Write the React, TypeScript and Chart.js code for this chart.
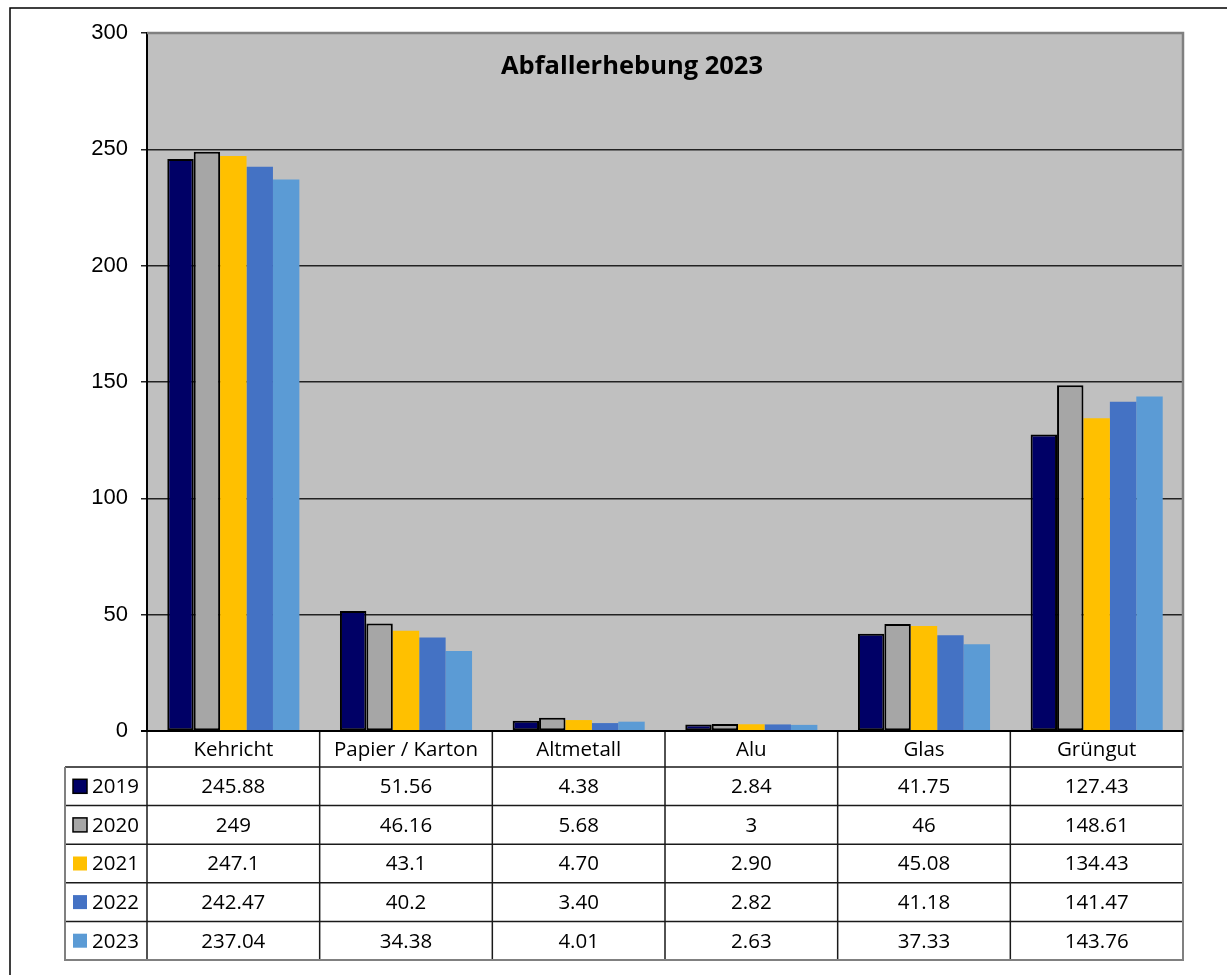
import { useEffect, useRef } from "react";
import { Chart, registerables } from "chart.js";

Chart.register(...registerables);

const categories = ["Kehricht", "Papier / Karton", "Altmetall", "Alu", "Glas", "Grüngut"];
const years = ["2019", "2020", "2021", "2022", "2023"];
const values2019 = ["245.88", "51.56", "4.38", "2.84", "41.75", "127.43"];
const values2020 = ["249", "46.16", "5.68", "3", "46", "148.61"];
const values2021 = ["247.1", "43.1", "4.70", "2.90", "45.08", "134.43"];
const values2022 = ["242.47", "40.2", "3.40", "2.82", "41.18", "141.47"];
const values2023 = ["237.04", "34.38", "4.01", "2.63", "37.33", "143.76"];
const seriesValues = [values2019, values2020, values2021, values2022, values2023];
const seriesColors = ["#000066", "#A6A6A6", "#FFC000", "#4472C4", "#5B9BD5"];
const seriesBorders = [2, 2, 0, 0, 0];
const yTicks = [0, 50, 100, 150, 200, 250, 300];
const titleText = "Abfallerhebung 2023";

const TABLE_FONT = '20.5px "Open Sans", "Noto Sans", sans-serif';

const decorPlugin = {
  id: "decor",
  beforeDraw(chart: any) {
    const { ctx, chartArea: a } = chart;
    ctx.save();
    ctx.fillStyle = "#FFFFFF";
    ctx.fillRect(0, 0, chart.width, chart.height);
    ctx.fillStyle = "#C0C0C0";
    ctx.fillRect(a.left, a.top, a.right - a.left, a.bottom - a.top);
    ctx.restore();
  },
  afterDatasetsDraw(chart: any) {
    const { ctx, chartArea: a } = chart;
    ctx.save();
    ctx.strokeStyle = "#808080";
    ctx.lineWidth = 2.5;
    ctx.beginPath();
    ctx.moveTo(a.left, a.top);
    ctx.lineTo(a.right, a.top);
    ctx.lineTo(a.right, a.bottom);
    ctx.stroke();
    ctx.fillStyle = "#000";
    ctx.font = 'bold 25.5px "Open Sans", "Noto Sans", sans-serif';
    ctx.textAlign = "center";
    ctx.textBaseline = "alphabetic";
    ctx.fillText(titleText, 632, 74);
    ctx.restore();
  },
  afterDraw(chart: any) {
    const { ctx, chartArea: a } = chart;
    const colW = (a.right - a.left) / categories.length;
    const headTop = a.bottom;
    const headH = 36;
    const rowH = 38.6;
    const legendLeft = 65;
    const rowsTop = headTop + headH;
    const tableBottom = rowsTop + rowH * years.length;
    ctx.save();
    ctx.strokeStyle = "#000";
    ctx.lineWidth = 1.5;
    ctx.beginPath();
    ctx.moveTo(10, chart.height + 2);
    ctx.lineTo(10, 8);
    ctx.lineTo(chart.width + 2, 8);
    ctx.stroke();

    ctx.fillStyle = "#FFFFFF";
    ctx.fillRect(a.left, headTop + 1, a.right - a.left, headH);
    ctx.fillRect(legendLeft, rowsTop, a.right - legendLeft, rowH * years.length);

    ctx.strokeStyle = "#1a1a1a";
    ctx.lineWidth = 1.5;
    ctx.beginPath();
    for (let i = 0; i < years.length; i++) {
      const y = rowsTop + i * rowH;
      ctx.moveTo(legendLeft, y);
      ctx.lineTo(a.right, y);
    }
    for (let c = 0; c < categories.length; c++) {
      const x = a.left + c * colW;
      ctx.moveTo(x, headTop);
      ctx.lineTo(x, tableBottom);
    }
    ctx.stroke();

    ctx.strokeStyle = "#808080";
    ctx.lineWidth = 2;
    ctx.beginPath();
    ctx.moveTo(legendLeft, rowsTop);
    ctx.lineTo(legendLeft, tableBottom);
    ctx.lineTo(a.right, tableBottom);
    ctx.lineTo(a.right, headTop);
    ctx.stroke();

    ctx.strokeStyle = "#000";
    ctx.lineWidth = 2;
    ctx.beginPath();
    ctx.moveTo(a.left - 6, headTop);
    ctx.lineTo(a.right, headTop);
    ctx.stroke();

    ctx.fillStyle = "#000";
    ctx.font = TABLE_FONT;
    ctx.textAlign = "center";
    ctx.textBaseline = "middle";
    categories.forEach((cat, c) => {
      ctx.fillText(cat, a.left + (c + 0.5) * colW, headTop + headH / 2 + 1);
    });
    years.forEach((yr, r) => {
      const cy = rowsTop + (r + 0.5) * rowH + 1;
      seriesValues[r].forEach((v, c) => {
        ctx.textAlign = "center";
        ctx.fillText(v, a.left + (c + 0.5) * colW, cy);
      });
      ctx.fillStyle = seriesColors[r];
      ctx.fillRect(73, cy - 8, 14, 14);
      if (seriesBorders[r] > 0) {
        ctx.strokeStyle = "#000";
        ctx.lineWidth = 1.5;
        ctx.strokeRect(73, cy - 8, 14, 14);
      }
      ctx.fillStyle = "#000";
      ctx.textAlign = "left";
      ctx.fillText(yr, 92, cy);
    });
    ctx.restore();
  },
};

export default function App() {
  const ref = useRef<HTMLCanvasElement | null>(null);
  useEffect(() => {
    if (!ref.current) return;
    const chart = new Chart(ref.current, {
      type: "bar",
      data: {
        labels: categories,
        datasets: years.map((yr, i) => ({
          label: yr,
          data: seriesValues[i].map((v) => parseFloat(v)),
          backgroundColor: seriesColors[i],
          borderColor: "#000000",
          borderWidth: seriesBorders[i],
          borderSkipped: false,
          categoryPercentage: 0.765,
          barPercentage: 1,
        })),
      },
      options: {
        responsive: false,
        animation: false,
        devicePixelRatio: 1,
        layout: { padding: { left: 0, top: 33, right: 44, bottom: 244 } },
        plugins: {
          legend: { display: false },
          title: { display: false },
          tooltip: { enabled: false },
        },
        scales: {
          x: { display: false },
          y: {
            min: 0,
            max: 300,
            afterFit: (axis: any) => {
              axis.width = 147;
            },
            afterBuildTicks: (axis: any) => {
              axis.ticks = yTicks.map((v) => ({ value: v }));
            },
            ticks: {
              color: "#000",
              padding: 13,
              font: { family: '"Liberation Sans", Arial, sans-serif', size: 22 },
            },
            grid: {
              color: (c: any) => (c.tick && c.tick.value === 300 ? "#808080" : "#222222"),
              lineWidth: 1.5,
              drawTicks: true,
              tickLength: 6,
              tickColor: "#222222",
            },
            border: { display: true, color: "#000", width: 2 },
          },
        },
      },
      plugins: [decorPlugin],
    });
    return () => chart.destroy();
  }, []);
  return (
    <div style={{ position: "absolute", left: 0, top: 0, width: 1227, height: 975 }}>
      <canvas ref={ref} width={1227} height={975} style={{ width: 1227, height: 975, display: "block" }} />
    </div>
  );
}
